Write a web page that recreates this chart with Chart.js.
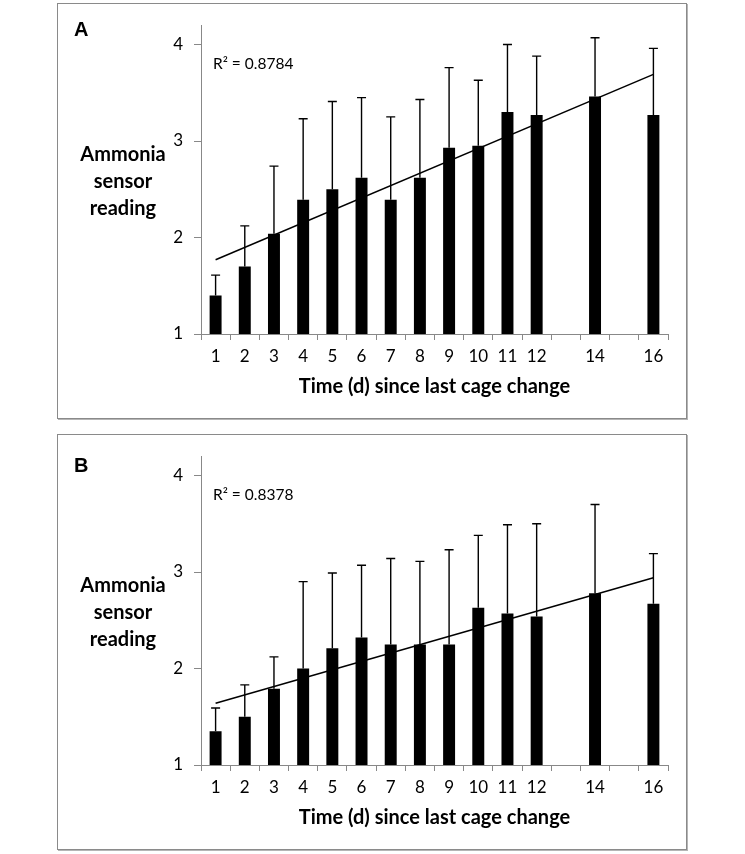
<!DOCTYPE html>
<html>
<head>
<meta charset="utf-8">
<script src="https://cdn.jsdelivr.net/npm/chart.js@4.4.1/dist/chart.umd.min.js"></script>
<style>
    body { margin: 0; background: #fff; width: 745px; height: 854px; position: relative; font-family: Lato, sans-serif; }
    .panel { position: absolute; left: 57px; width: 628px; height: 414px; border: 1px solid #8a8a8a; box-shadow: 1px 1px 0 #b5b5b5; background: #fff; }
    #panelA { top: 3px; }
    #panelB { top: 434px; }
    .panel canvas { position: absolute; left: 0; top: 0; }
    .letter { position: absolute; left: 16px; top: 15px; font: 900 20px "Liberation Sans", Arial, sans-serif; line-height: 20px; }
    #panelB .letter { top: 20px; }
    .ytitle { position: absolute; left: 8px; top: 136px; width: 114px; text-align: center; font: bold 20px Lato, sans-serif; line-height: 27px; }
    .r2 { position: absolute; left: 155px; top: 50px; font: 15.5px Lato, sans-serif; line-height: 18px; }
</style>
</head>
<body>
<div class="panel" id="panelA">
    <canvas id="chartA" width="628" height="414"></canvas>
    <div class="letter">A</div>
    <div class="ytitle">Ammonia<br>sensor<br>reading</div>
    <div class="r2">R² = 0.8784</div>
</div>
<div class="panel" id="panelB">
    <canvas id="chartB" width="628" height="414"></canvas>
    <div class="letter">B</div>
    <div class="ytitle">Ammonia<br>sensor<br>reading</div>
    <div class="r2">R² = 0.8378</div>
</div>
<script>
// days since last cage change (13 and 15 are empty slots on the axis)
const days = ['1', '2', '3', '4', '5', '6', '7', '8', '9', '10', '11', '12', '', '14', '', '16'];

// panel A: mean reading and top of the error bar
const meanA  = [1.40, 1.70, 2.04, 2.39, 2.50, 2.62, 2.39, 2.62, 2.93, 2.95, 3.30, 3.27, null, 3.46, null, 3.27];
const upperA = [1.61, 2.12, 2.74, 3.23, 3.41, 3.45, 3.25, 3.43, 3.76, 3.63, 4.00, 3.88, null, 4.07, null, 3.96];
const trendA = [1.77, null, null, null, null, null, null, null, null, null, null, null, null, null, null, 3.69];

// panel B
const meanB  = [1.35, 1.50, 1.79, 2.00, 2.21, 2.32, 2.25, 2.25, 2.25, 2.63, 2.57, 2.54, null, 2.78, null, 2.67];
const upperB = [1.59, 1.83, 2.12, 2.90, 2.99, 3.07, 3.14, 3.11, 3.23, 3.38, 3.49, 3.50, null, 3.70, null, 3.19];
const trendB = [1.64, null, null, null, null, null, null, null, null, null, null, null, null, null, null, 2.94];

const yMin = 1;
const yMax = 4.2;

// draws the upper error bars on top of the bars
const errorBars = {
    id: 'errorBars',
    afterDatasetsDraw(chart) {
        const ctx = chart.ctx;
        const y = chart.scales.y;
        chart.data.datasets.forEach((ds, i) => {
            if (!ds.errorUpper) return;
            const meta = chart.getDatasetMeta(i);
            ctx.save();
            ctx.strokeStyle = '#000';
            ctx.lineWidth = 1.4;
            meta.data.forEach((bar, j) => {
                const top = ds.errorUpper[j];
                if (top == null || ds.data[j] == null) return;
                const yb = y.getPixelForValue(ds.data[j]);
                const yt = y.getPixelForValue(top);
                ctx.beginPath();
                ctx.moveTo(bar.x, yb);
                ctx.lineTo(bar.x, yt);
                ctx.moveTo(bar.x - 4.5, yt);
                ctx.lineTo(bar.x + 4.5, yt);
                ctx.stroke();
            });
            ctx.restore();
        });
    }
};

function makePanel(id, means, uppers, trend) {
    const ctx = document.getElementById(id).getContext('2d');
    return new Chart(ctx, {
        type: 'bar',
        data: {
            labels: days,
            datasets: [{
                type: 'line',
                data: trend,
                borderColor: '#000',
                borderWidth: 1.5,
                pointRadius: 0,
                spanGaps: true,
                order: 1
            }, {
                data: means,
                errorUpper: uppers,
                backgroundColor: '#000',
                borderWidth: 0,
                barPercentage: 0.41,
                categoryPercentage: 1,
                order: 2
            }]
        },
        options: {
            responsive: false,
            animation: false,
            layout: { padding: { left: 103, right: 18, top: 19, bottom: 0 } },
            plugins: {
                legend: { display: false },
                tooltip: { enabled: false }
            },
            scales: {
                x: {
                    offset: true,
                    afterFit: (scale) => { scale.height = 84; },
                    grid: { drawOnChartArea: false, tickLength: 6, color: '#888', offset: true },
                    border: { color: '#888', width: 1 },
                    ticks: { color: '#000', font: { family: 'Lato', size: 17 }, padding: 6, maxRotation: 0, autoSkip: false },
                    title: {
                        display: true,
                        text: 'Time (d) since last cage change',
                        color: '#000',
                        font: { family: 'Lato', size: 20, weight: 'bold' },
                        padding: { top: 0, bottom: 19 }
                    }
                },
                y: {
                    min: yMin,
                    max: yMax,
                    afterFit: (scale) => { scale.width = 40; },
                    grid: { drawOnChartArea: false, tickLength: 7, color: '#888' },
                    border: { color: '#888', width: 1 },
                    ticks: { stepSize: 1, includeBounds: false, color: '#000', font: { family: 'Lato', size: 17 }, padding: 11 }
                }
            }
        },
        plugins: [errorBars]
    });
}

makePanel('chartA', meanA, upperA, trendA);
makePanel('chartB', meanB, upperB, trendB);
</script>
</body>
</html>
